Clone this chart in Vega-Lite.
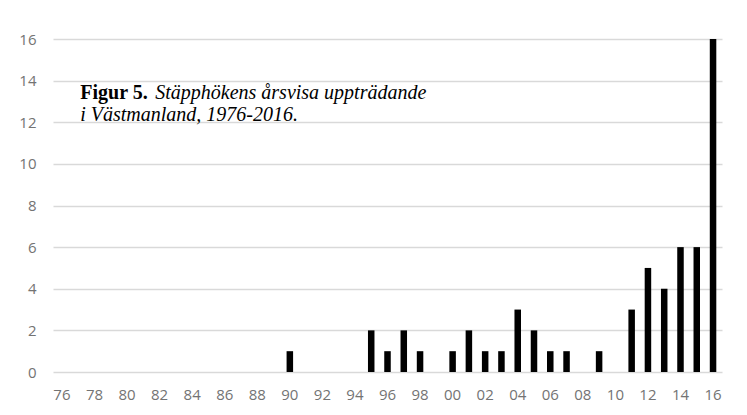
{
  "$schema": "https://vega.github.io/schema/vega-lite/v6.json",
  "width": 669,
  "height": 333,
  "autosize": {"type": "none"},
  "padding": {"left": 53, "top": 39, "right": 25, "bottom": 43},
  "background": "white",
  "config": {"view": {"stroke": null}},
  "datasets": {
    "counts": [
      {"year": 1976, "n": 0}, {"year": 1977, "n": 0}, {"year": 1978, "n": 0}, {"year": 1979, "n": 0},
      {"year": 1980, "n": 0}, {"year": 1981, "n": 0}, {"year": 1982, "n": 0}, {"year": 1983, "n": 0},
      {"year": 1984, "n": 0}, {"year": 1985, "n": 0}, {"year": 1986, "n": 0}, {"year": 1987, "n": 0},
      {"year": 1988, "n": 0}, {"year": 1989, "n": 0}, {"year": 1990, "n": 1}, {"year": 1991, "n": 0},
      {"year": 1992, "n": 0}, {"year": 1993, "n": 0}, {"year": 1994, "n": 0}, {"year": 1995, "n": 2},
      {"year": 1996, "n": 1}, {"year": 1997, "n": 2}, {"year": 1998, "n": 1}, {"year": 1999, "n": 0},
      {"year": 2000, "n": 1}, {"year": 2001, "n": 2}, {"year": 2002, "n": 1}, {"year": 2003, "n": 1},
      {"year": 2004, "n": 3}, {"year": 2005, "n": 2}, {"year": 2006, "n": 1}, {"year": 2007, "n": 1},
      {"year": 2008, "n": 0}, {"year": 2009, "n": 1}, {"year": 2010, "n": 0}, {"year": 2011, "n": 3},
      {"year": 2012, "n": 5}, {"year": 2013, "n": 4}, {"year": 2014, "n": 6}, {"year": 2015, "n": 6},
      {"year": 2016, "n": 16}
    ],
    "caption": [
      {"year": 1977, "n": 13.1, "part": "bold", "text": "Figur 5."},
      {"year": 1977, "n": 13.1, "part": "italic1", "text": "Stäpphökens årsvisa uppträdande"},
      {"year": 1977, "n": 12.08, "part": "italic2", "text": "i Västmanland, 1976-2016."}
    ]
  },
  "layer": [
    {
      "data": {"name": "counts"},
      "mark": {"type": "bar", "color": "black"},
      "encoding": {
        "x": {
          "field": "year",
          "type": "ordinal",
          "scale": {"paddingInner": 0.6, "paddingOuter": 0.35},
          "axis": {
            "title": null,
            "values": [1976, 1978, 1980, 1982, 1984, 1986, 1988, 1990, 1992, 1994, 1996, 1998, 2000, 2002, 2004, 2006, 2008, 2010, 2012, 2014, 2016],
            "labelExpr": "slice(toString(datum.value), 2)",
            "labelAngle": 0,
            "ticks": false,
            "domain": false,
            "labelFont": "Open Sans",
            "labelFontSize": 15,
            "labelColor": "#737373",
            "labelPadding": 15
          }
        },
        "y": {
          "field": "n",
          "type": "quantitative",
          "scale": {"domain": [0, 16], "nice": false},
          "axis": {
            "title": null,
            "values": [0, 2, 4, 6, 8, 10, 12, 14, 16],
            "ticks": false,
            "domain": false,
            "grid": true,
            "gridColor": "#d9d9d9",
            "gridWidth": 1.3,
            "labelFont": "Open Sans",
            "labelFontSize": 15,
            "labelColor": "#737373",
            "labelPadding": 17
          }
        }
      }
    },
    {
      "data": {"name": "caption"},
      "transform": [{"filter": "datum.part === 'bold'"}],
      "mark": {"type": "text", "align": "left", "baseline": "alphabetic", "font": "Liberation Serif", "fontSize": 20, "fontWeight": "bold", "color": "black", "dx": 2},
      "encoding": {
        "x": {"field": "year", "type": "ordinal"},
        "y": {"field": "n", "type": "quantitative"},
        "text": {"field": "text"}
      }
    },
    {
      "data": {"name": "caption"},
      "transform": [{"filter": "datum.part === 'italic1'"}],
      "mark": {"type": "text", "align": "left", "baseline": "alphabetic", "font": "Liberation Serif", "fontSize": 20, "fontStyle": "italic", "color": "black", "dx": 77},
      "encoding": {
        "x": {"field": "year", "type": "ordinal"},
        "y": {"field": "n", "type": "quantitative"},
        "text": {"field": "text"}
      }
    },
    {
      "data": {"name": "caption"},
      "transform": [{"filter": "datum.part === 'italic2'"}],
      "mark": {"type": "text", "align": "left", "baseline": "alphabetic", "font": "Liberation Serif", "fontSize": 20, "fontStyle": "italic", "color": "black", "dx": 2},
      "encoding": {
        "x": {"field": "year", "type": "ordinal"},
        "y": {"field": "n", "type": "quantitative"},
        "text": {"field": "text"}
      }
    }
  ]
}
